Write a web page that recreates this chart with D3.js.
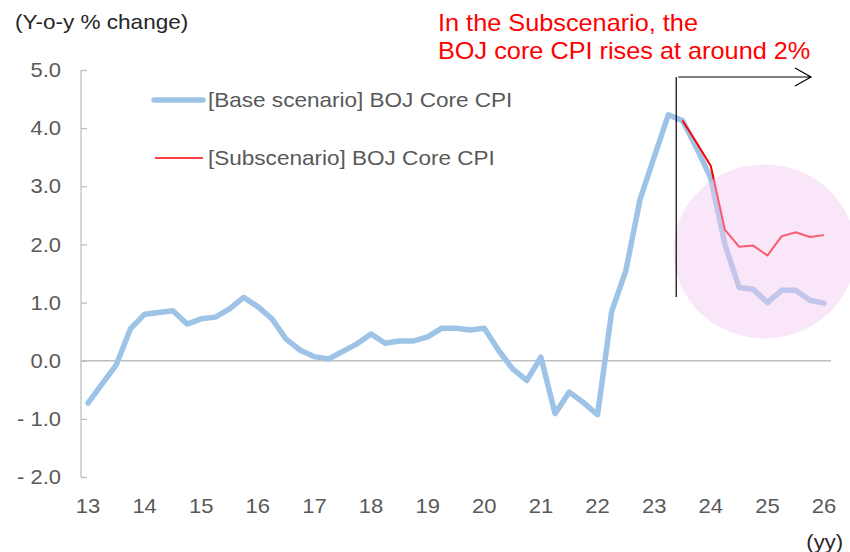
<!DOCTYPE html>
<html>
<head>
<meta charset="utf-8">
<script src="https://cdn.jsdelivr.net/npm/d3@7"></script>
<style>
  body { margin: 0; background: #fff; }
  text { font-family: "Liberation Sans", Arial, sans-serif; }
</style>
</head>
<body>
<script>
var w = 850,
    h = 552,
    sx = 1.1; // the source text is a bit wider than Arial

// quarterly, 2013 Q1 .. 2026 Q1
var baseCPI = [-0.73, -0.40, -0.07, 0.55, 0.80, 0.83, 0.86, 0.63, 0.72, 0.75,
    0.89, 1.09, 0.93, 0.72, 0.37, 0.18, 0.07, 0.03, 0.16, 0.29,
    0.46, 0.30, 0.34, 0.34, 0.41, 0.56, 0.56, 0.53, 0.56, 0.18,
    -0.14, -0.34, 0.06, -0.91, -0.54, -0.72, -0.93, 0.85, 1.55, 2.77,
    3.50, 4.23, 4.13, 3.66, 3.14, 2.00, 1.26, 1.23, 1.00, 1.21,
    1.21, 1.04, 0.99];
// starts at 2023 Q3
var subCPI = [4.13, 3.75, 3.35, 2.25, 1.96, 1.98, 1.81, 2.14, 2.21, 2.13, 2.16];
var subStart = 42;

var yearTicks = [13, 14, 15, 16, 17, 18, 19, 20, 21, 22, 23, 24, 25, 26];
var valueTicks = [5, 4, 3, 2, 1, 0, -1, -2];
var seriesNames = ["[Base scenario] BOJ Core CPI", "[Subscenario] BOJ Core CPI"];
var noteLines = ["In the Subscenario, the", "BOJ core CPI rises at around 2%"];

var baseData = baseCPI.map(function(v, i) { return { t: 13 + i / 4, v: v }; });
var subData = subCPI.map(function(v, i) { return { t: 13 + (subStart + i) / 4, v: v }; });

var x = d3.scaleLinear().domain([13, 26]).range([88, 824]);
var y = d3.scaleLinear().domain([-2, 5]).range([477, 70]);

var svg = d3.select("body")
    .append("svg")
    .attr("width", w)
    .attr("height", h);

// text placed through a transform so it can be stretched a little
function place(sel, fx, fy) {
    sel.attr("transform", function(d, i) {
        return "translate(" + fx(d, i) + "," + fy(d, i) + ") scale(" + sx + ",1)";
    });
}

// y axis: line + inward ticks
var yAxis = d3.axisRight(y)
    .tickValues(valueTicks)
    .tickSize(6)
    .tickFormat("");
var yg = svg.append("g")
    .attr("transform", "translate(81,0)")
    .call(yAxis);
yg.select(".domain").attr("stroke", "#bfbfbf").attr("stroke-width", 1.3)
    .attr("d", "M0," + y(5) + "V" + y(-2));
yg.selectAll(".tick line").attr("stroke", "#bfbfbf").attr("stroke-width", 1.3);

svg.selectAll(".ylab")
    .data(valueTicks)
    .enter()
    .append("text")
    .attr("class", "ylab")
    .attr("dy", "0.36em")
    .attr("text-anchor", "end")
    .attr("fill", "#595959")
    .style("font-size", "20px")
    .text(function(d) { return d < 0 ? "- " + d3.format(".1f")(-d) : d3.format(".1f")(d); })
    .call(place, function() { return 61; }, function(d) { return y(d); });

// zero line
svg.append("line")
    .attr("x1", 81).attr("x2", 831)
    .attr("y1", y(0)).attr("y2", y(0))
    .attr("stroke", "#bfbfbf")
    .attr("stroke-width", 1.5);

// x labels
svg.selectAll(".xlab")
    .data(yearTicks)
    .enter()
    .append("text")
    .attr("class", "xlab")
    .attr("text-anchor", "middle")
    .attr("fill", "#595959")
    .style("font-size", "20px")
    .text(function(d) { return d; })
    .call(place, function(d) { return x(d); }, function() { return 513; });

svg.append("text")
    .datum("(yy)")
    .attr("text-anchor", "end")
    .attr("fill", "#262626")
    .style("font-size", "20px")
    .text(function(d) { return d; })
    .call(place, function() { return 843; }, function() { return 549; });

svg.append("text")
    .datum("(Y-o-y % change)")
    .attr("fill", "#262626")
    .style("font-size", "20.5px")
    .text(function(d) { return d; })
    .call(place, function() { return 15; }, function() { return 29; });

var line = d3.line()
    .x(function(d) { return x(d.t); })
    .y(function(d) { return y(d.v); });

svg.append("path")
    .datum(baseData)
    .attr("d", line)
    .attr("fill", "none")
    .attr("stroke", "#9dc3e6")
    .attr("stroke-width", 5.5)
    .attr("stroke-linejoin", "round")
    .attr("stroke-linecap", "round");

svg.append("path")
    .datum(subData)
    .attr("d", line)
    .attr("fill", "none")
    .attr("stroke", "#ff0000")
    .attr("stroke-width", 2);

// highlight circle over the projection
svg.append("ellipse")
    .attr("cx", x(24.95)).attr("cy", y(1.88))
    .attr("rx", 91).attr("ry", 87)
    .attr("fill", "rgb(242,200,240)")
    .attr("fill-opacity", 0.45);

// legend
svg.append("line")
    .attr("x1", 154).attr("x2", 203).attr("y1", 100).attr("y2", 100)
    .attr("stroke", "#9dc3e6").attr("stroke-width", 5.5)
    .attr("stroke-linecap", "round");
svg.append("line")
    .attr("x1", 155).attr("x2", 203).attr("y1", 158).attr("y2", 158)
    .attr("stroke", "#ff0000").attr("stroke-width", 1.5);
svg.selectAll(".leg")
    .data(seriesNames)
    .enter()
    .append("text")
    .attr("class", "leg")
    .attr("dy", "0.36em")
    .attr("fill", "#595959")
    .style("font-size", "20.5px")
    .text(function(d) { return d; })
    .call(place, function() { return 208; }, function(d, i) { return 100 + i * 58; });

// projection marker and arrow
var xStart = x(23.39);
svg.append("line")
    .attr("x1", xStart).attr("x2", xStart)
    .attr("y1", 77).attr("y2", 297)
    .attr("stroke", "#000").attr("stroke-width", 1.2);
svg.append("path")
    .attr("d", "M" + (xStart + 2) + ",77H811M795,68L811,77L795,86")
    .attr("fill", "none")
    .attr("stroke", "#000").attr("stroke-width", 1.2);

svg.selectAll(".note")
    .data(noteLines)
    .enter()
    .append("text")
    .attr("class", "note")
    .attr("fill", "#ff0000")
    .style("font-size", "23px")
    .text(function(d) { return d; })
    .call(place, function() { return 438; }, function(d, i) { return 31 + i * 28; });
</script>
</body>
</html>
